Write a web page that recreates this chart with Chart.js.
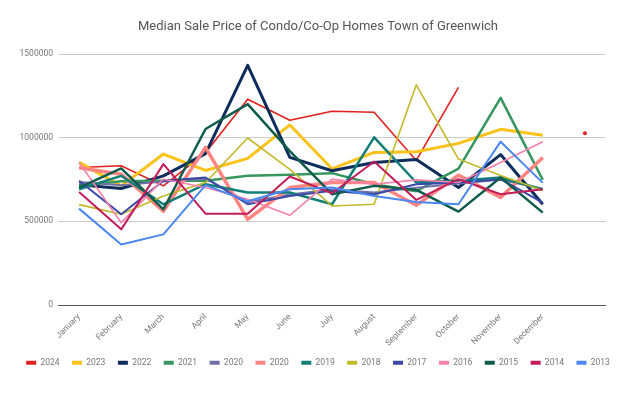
<!DOCTYPE html>
<html>
<head>
<meta charset="utf-8">
<script src="https://cdn.jsdelivr.net/npm/chart.js@4/dist/chart.umd.min.js"></script>
<style>
  html, body { margin: 0; padding: 0; background: #fff; }
  #wrap { width: 636px; height: 399px; position: relative; }
</style>
</head>
<body>
<div id="wrap"><canvas id="c" width="636" height="399"></canvas></div>
<script>
const months = ['January','February','March','April','May','June','July','August','September','October','November','December',''];
const yTicks = [0, 500000, 1000000, 1500000];

const s2024  = [822000, 832000, 712000, 910000, 1230000, 1104000, 1158000, 1152000, 864000, 1300000, null, null, 1026000];
const s2023  = [852000, 712000, 902000, 804000, 876000, 1076000, 814000, 912000, 916000, 966000, 1050000, 1014000, null];
const s2022  = [718000, 696000, 772000, 905000, 1432000, 882000, 802000, 852000, 870000, 702000, 899000, 602000, null];
const s2021  = [712000, 740000, 742000, 742000, 772000, 778000, 788000, 722000, 680000, 815000, 1238000, 748000, null];
const s2020a = [735000, 715000, 738000, 755000, 615000, 660000, 690000, 672000, 700000, 726000, 748000, 695000, null];
const s2020b = [820000, 782000, 560000, 942000, 512000, 702000, 732000, 732000, 596000, 776000, 642000, 882000, null];
const s2019  = [692000, 772000, 602000, 722000, 672000, 672000, 602000, 1002000, 732000, 742000, 762000, 690000, null];
const s2018  = [600000, 542000, 652000, 732000, 998000, 810000, 592000, 602000, 1316000, 872000, 774000, 684000, null];
const s2017  = [742000, 542000, 742000, 762000, 602000, 652000, 682000, 662000, 722000, 732000, 752000, 612000, null];
const s2016  = [852000, 492000, 752000, 702000, 632000, 536000, 752000, 722000, 748000, 732000, 852000, 976000, null];
const s2015  = [702000, 816000, 572000, 1052000, 1200000, 920000, 662000, 712000, 688000, 558000, 762000, 552000, null];
const s2014  = [676000, 452000, 842000, 546000, 546000, 768000, 668000, 858000, 628000, 752000, 662000, 692000, null];
const s2013  = [576000, 362000, 422000, 716000, 620000, 692000, 702000, 652000, 616000, 602000, 976000, 730000, null];

const seriesLabels = ['2024','2023','2022','2021','2020','2020','2019','2018','2017','2016','2015','2014','2013'];
const seriesData = [s2024, s2023, s2022, s2021, s2020a, s2020b, s2019, s2018, s2017, s2016, s2015, s2014, s2013];
const colors = ['#e0211d','#fbc21a','#0e2d5c','#36965d','#7070a8','#ff8583','#137d78','#c2b928','#3a48a8','#f781aa','#0f5c4c','#c41c59','#4b87f0'];
const widths = [1.6, 3, 3, 2.5, 2, 3.5, 2.5, 1.6, 2, 1.6, 2.5, 2, 2];

const datasets = seriesData.map((d, i) => ({
  label: seriesLabels[i],
  data: d,
  borderColor: colors[i],
  backgroundColor: colors[i],
  borderWidth: widths[i],
  tension: 0,
  spanGaps: false,
  borderJoinStyle: 'round',
  pointRadius: ctx => (i === 0 && ctx.dataIndex === 12) ? 2 : 0,
  pointHoverRadius: 0,
  pointBorderWidth: 0,
  order: -i
}));

const tickFont = { family: 'Roboto', size: 8.5 };

new Chart(document.getElementById('c'), {
  type: 'line',
  data: { labels: months, datasets },
  options: {
    responsive: false,
    animation: false,
    events: [],
    layout: { padding: { left: 0, right: 0, top: 0, bottom: 22 } },
    plugins: {
      tooltip: { enabled: false },
      title: {
        display: true,
        text: 'Median Sale Price of Condo/Co-Op Homes Town of Greenwich',
        color: '#555',
        font: { family: 'Roboto', size: 13, weight: 'normal' },
        padding: { top: 19, bottom: 19.4 }
      },
      legend: {
        position: 'bottom',
        labels: {
          color: '#777',
          font: tickFont,
          boxWidth: 10,
          boxHeight: 4,
          padding: 12.5,
          sort: (a, b) => a.datasetIndex - b.datasetIndex,
          generateLabels: chart => Chart.defaults.plugins.legend.labels.generateLabels(chart).map(l => Object.assign({}, l, { lineWidth: 0 }))
        }
      }
    },
    scales: {
      x: {
        offset: true,
        grid: { display: false, drawTicks: false },
        border: { display: false },
        ticks: {
          autoSkip: false,
          maxRotation: 45,
          minRotation: 45,
          padding: 7,
          color: '#777',
          font: tickFont
        },
        afterFit: s => { s.height = 41; }
      },
      y: {
        min: 0,
        max: 1500000,
        afterBuildTicks: s => { s.ticks = yTicks.map(v => ({ value: v })); },
        grid: {
          drawTicks: false,
          color: ctx => ctx.tick && ctx.tick.value === 0 ? '#555' : '#ccc',
          lineWidth: 1
        },
        border: { display: false },
        ticks: {
          padding: 5,
          color: '#777',
          font: tickFont,
          callback: v => String(v)
        },
        afterFit: s => { s.width = 58; }
      },
      yR: {
        position: 'right',
        display: true,
        grid: { display: false, drawTicks: false },
        border: { display: false },
        ticks: { display: false },
        afterFit: s => { s.width = 30; }
      }
    }
  }
});
</script>
</body>
</html>
